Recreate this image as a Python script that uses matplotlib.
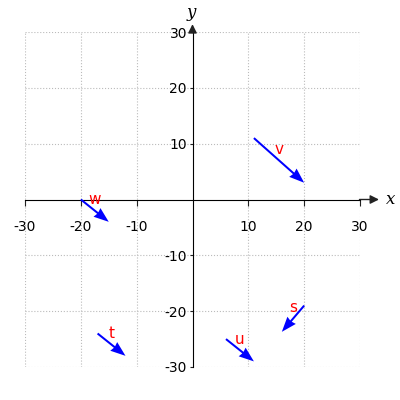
import matplotlib
matplotlib.use("Agg")
import matplotlib.pyplot as plt

plt.rcParams["mathtext.fontset"] = "dejavuserif"

# vectors: label, start point, components
names = ["v", "w", "t", "u", "s"]
x0 = [11, -20, -17, 6, 20]
y0 = [11, 0, -24, -25, -19]
dx = [9, 5, 5, 5, -4]
dy = [-8, -4, -4, -4, -4.7]

ticks = [-30, -20, -10, 10, 20, 30]

fig = plt.figure(figsize=(4, 4), dpi=100)
ax = fig.add_axes([0.0625, 0.0825, 0.8375, 0.8375])
ax.set_xlim(-30, 30)
ax.set_ylim(-30, 30)

ax.grid(True, linestyle=":", color="#bbbbbb", linewidth=0.8)
ax.set_xticks(ticks)
ax.set_yticks(ticks)
ax.set_xticklabels([str(t) for t in ticks])
ax.set_yticklabels([str(t) for t in ticks])
ax.tick_params(labelsize=10, color="#222222")
ax.tick_params(axis="x", length=4.3, pad=10.5)
ax.tick_params(axis="y", length=2.5, pad=1.5)

for side in ["top", "right"]:
    ax.spines[side].set_visible(False)
ax.spines["left"].set_position(("data", 0))
ax.spines["bottom"].set_position(("data", 0))

# axis arrows
arrow_style = dict(arrowstyle="-|>", color="#222222", lw=1, mutation_scale=13,
                   shrinkA=0, shrinkB=0)
ax.annotate("", xy=(33.4, 0), xytext=(29.9, 0), annotation_clip=False,
            arrowprops=arrow_style)
ax.annotate("", xy=(0, 31.4), xytext=(0, 29.9), annotation_clip=False,
            arrowprops=arrow_style)
ax.text(34.5, 0, "$x$", fontsize=12, va="center", ha="left")
ax.text(0, 33.2, "$y$", fontsize=12, va="center", ha="center")

ax.quiver(x0, y0, dx, dy, angles="xy", scale_units="xy", scale=1, color="blue",
          width=0.006, headwidth=5.5, headlength=7.5, headaxislength=7, zorder=3)

for n, a, b, u, v in zip(names, x0, y0, dx, dy):
    ax.text(a + u / 2, b + v / 2 + 2, n, color="red", fontsize=11,
            ha="center", va="center", zorder=4)

fig.savefig("out.png", dpi=100)
